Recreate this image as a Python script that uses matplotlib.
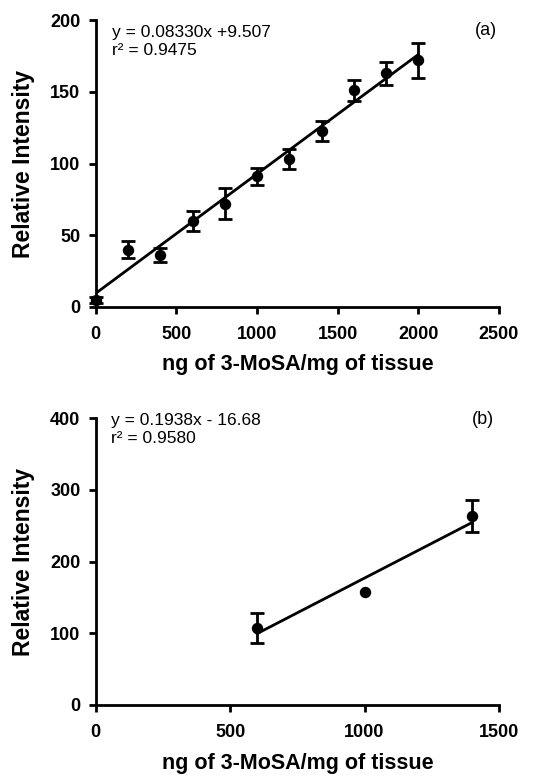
import matplotlib
matplotlib.use('Agg')
import matplotlib.pyplot as plt
import numpy as np

plt.rcParams['font.family'] = ['Liberation Sans', 'DejaVu Sans']

# panel (a) calibration
conc_a = [0, 200, 400, 600, 800, 1000, 1200, 1400, 1600, 1800, 2000]
inten_a = [5, 40, 36, 60, 72, 91, 103, 123, 151, 163, 172]
err_a = [2, 6, 5, 7, 11, 6, 7, 7, 7.5, 8, 12]
slope_a, icpt_a = 0.08330, 9.507

# panel (b)
conc_b = [600, 1000, 1400]
inten_b = [107, 157, 264]
err_b = [21, 0, 22]
slope_b, icpt_b = 0.1938, -16.68

fig = plt.figure(figsize=(5.6, 7.79), dpi=100)
ax1 = fig.add_axes([0.171, 0.606, 0.72, 0.368])
ax2 = fig.add_axes([0.171, 0.095, 0.72, 0.368])


def style(ax, xticks, yticks):
    for s in ['top', 'right']:
        ax.spines[s].set_visible(False)
    for s in ['left', 'bottom']:
        ax.spines[s].set_linewidth(2)
    ax.set_xticks(xticks)
    ax.set_yticks(yticks)
    ax.tick_params(width=2, length=5, labelsize=13)
    ax.tick_params(axis='x', pad=9)
    ax.tick_params(axis='y', pad=6)
    for lab in ax.get_xticklabels() + ax.get_yticklabels():
        lab.set_fontweight('bold')
    ax.set_xlabel('ng of 3-MoSA/mg of tissue', fontsize=15.5, fontweight='bold', labelpad=8)
    ax.set_ylabel('Relative Intensity', fontsize=16.5, fontweight='bold', labelpad=11)


def points(ax, x, y, err):
    x, y, err = np.array(x), np.array(y), np.array(err)
    has = err > 0
    ax.errorbar(x[has], y[has], yerr=err[has], fmt='none', ecolor='black',
                elinewidth=2, capsize=5, capthick=2, clip_on=False, zorder=3)
    ax.plot(x, y, 'o', color='black', ms=7.2, clip_on=False, zorder=4)


# (a)
xa = np.array([0, 2000])
ax1.plot(xa, slope_a * xa + icpt_a, color='black', lw=2)
points(ax1, conc_a, inten_a, err_a)
ax1.set_xlim(0, 2500)
ax1.set_ylim(0, 200)
style(ax1, [0, 500, 1000, 1500, 2000, 2500], [0, 50, 100, 150, 200])
ax1.text(100, 197, 'y = 0.08330x +9.507\nr\u00b2 = 0.9475', fontsize=12.5,
         va='top', ha='left', linespacing=1.25)
ax1.text(2420, 193, '(a)', fontsize=13, va='center', ha='center')

# (b)
xb = np.array([600, 1400])
ax2.plot(xb, slope_b * xb + icpt_b, color='black', lw=2)
points(ax2, conc_b, inten_b, err_b)
ax2.set_xlim(0, 1500)
ax2.set_ylim(0, 400)
style(ax2, [0, 500, 1000, 1500], [0, 100, 200, 300, 400])
ax2.text(55, 408, 'y = 0.1938x - 16.68\nr\u00b2 = 0.9580', fontsize=12.5,
         va='top', ha='left', linespacing=1.25)
ax2.text(1440, 398, '(b)', fontsize=13, va='center', ha='center')

fig.savefig('out.png', dpi=100)
